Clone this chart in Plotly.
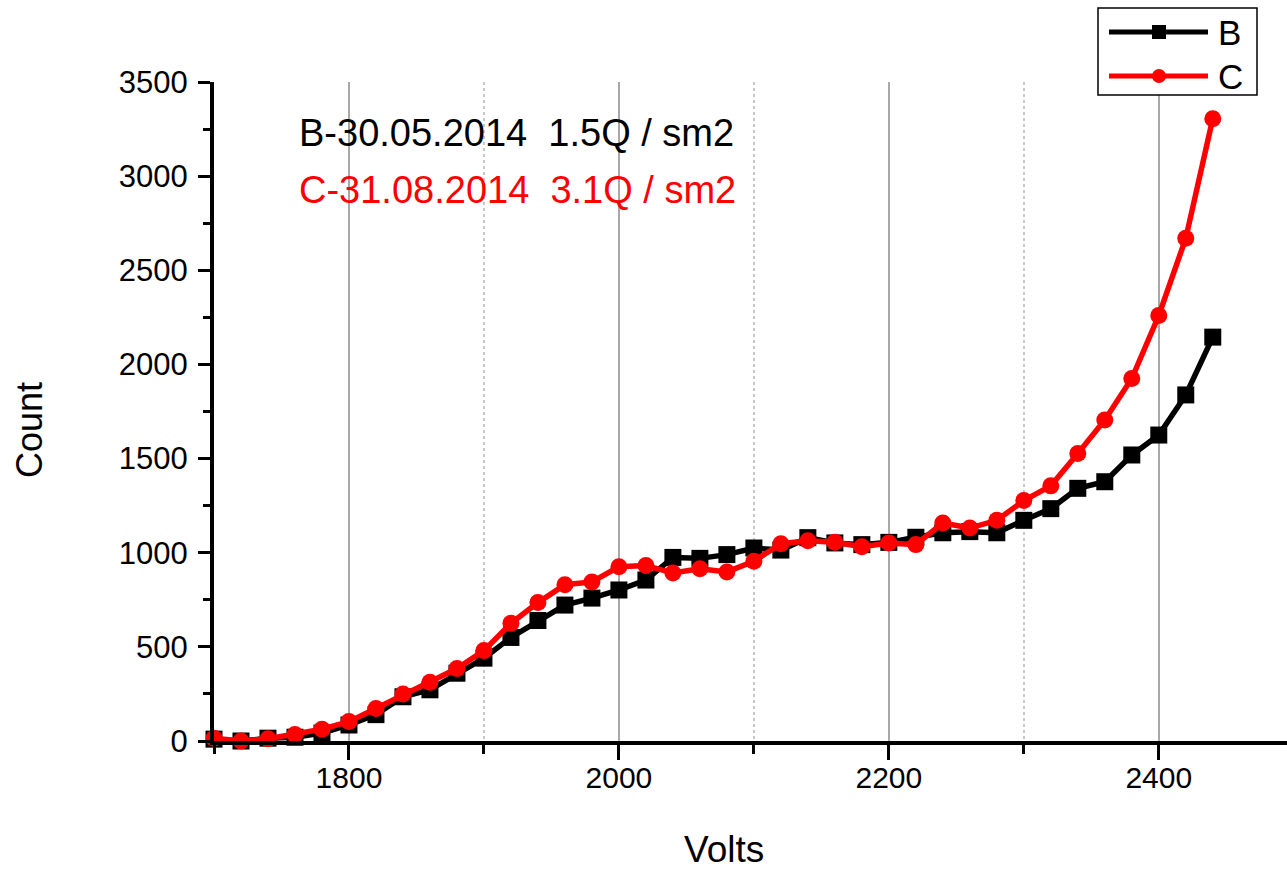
import plotly.graph_objects as go

# Plateau curves: counting rate vs. high voltage for two runs
volts = list(range(1700, 2441, 20))

count_b = [10, 0, 15, 20, 42, 85, 140, 235, 272, 360, 440, 550, 640, 722, 759, 802,
           855, 975, 970, 990, 1025, 1014, 1080, 1052, 1043, 1055, 1082, 1106, 1112,
           1106, 1172, 1234, 1342, 1377, 1519, 1625, 1838, 2145]

count_c = [14, 0, 12, 35, 63, 103, 173, 250, 312, 385, 480, 625, 735, 830, 845, 925,
           932, 892, 915, 898, 955, 1048, 1064, 1056, 1032, 1052, 1043, 1158, 1131,
           1172, 1277, 1355, 1527, 1705, 1925, 2260, 2670, 3305]

series_names = ["B", "C"]
series_colors = ["#000000", "#ff0000"]
series_symbols = ["square", "circle"]
note_lines = ["B-30.05.2014\u00a0\u00a01.5Q / sm2", "C-31.08.2014\u00a0\u00a03.1Q / sm2"]

W, H = 1287, 870
ML, MR, MT, MB = 214, 0, 82, 129
PW, PH = W - ML - MR, H - MT - MB
FONT = "Arial, Liberation Sans, sans-serif"


def px(x):
    return (x - ML) / PW


def py(y):
    return (H - MB - y) / PH


fig = go.Figure()
for name, ys, col, sym in zip(series_names, [count_b, count_c], series_colors, series_symbols):
    fig.add_trace(go.Scatter(
        x=volts, y=ys, name=name, mode="lines+markers",
        line=dict(color=col, width=5.5),
        marker=dict(symbol=sym, size=17, color=col),
        showlegend=False, cliponaxis=False,
    ))

fig.update_xaxes(
    range=[1700, 2495], tickvals=[1800, 2000, 2200, 2400],
    ticks="outside", ticklen=15, tickwidth=3, tickcolor="black",
    showline=True, linecolor="black", linewidth=4,
    showgrid=True, gridcolor="#a8a8a8", gridwidth=1.5,
    minor=dict(dtick=100, tick0=1700, ticks="outside", ticklen=9, tickwidth=3,
               tickcolor="black", showgrid=True, gridcolor="#c8c8c8",
               griddash="dot", gridwidth=1.5),
    tickfont=dict(family=FONT, size=30, color="black"),
    ticklabelstandoff=-8,
    zeroline=False,
)
fig.update_yaxes(
    range=[0, 3500], dtick=500, tick0=0,
    ticks="outside", ticklen=12, tickwidth=3, tickcolor="black",
    showline=True, linecolor="black", linewidth=4,
    showgrid=False, zeroline=False,
    minor=dict(dtick=250, ticks="outside", ticklen=7, tickwidth=3, tickcolor="black"),
    tickfont=dict(family=FONT, size=31, color="black"),
    ticklabelstandoff=4,
)

annotations = [
    dict(text="Volts", x=px(724), y=py(849), xref="paper", yref="paper",
         xanchor="center", yanchor="middle", showarrow=False,
         font=dict(family=FONT, size=37, color="black")),
    dict(text="Count", x=px(29), y=py(430), xref="paper", yref="paper",
         xanchor="center", yanchor="middle", textangle=-90, showarrow=False,
         font=dict(family=FONT, size=36, color="black")),
]
for txt, col, yy in zip(note_lines, series_colors, [133, 190]):
    annotations.append(dict(text=txt, x=px(297), y=py(yy), xref="paper", yref="paper",
                            xanchor="left", yanchor="middle", showarrow=False,
                            font=dict(family=FONT, size=38, color=col)))

# Legend drawn as a framed box with line samples and markers
shapes = [dict(type="rect", xref="paper", yref="paper",
               x0=px(1098), x1=px(1257), y0=py(95), y1=py(8),
               line=dict(color="black", width=1.5), fillcolor="white")]
for name, col, sym, ly in zip(series_names, series_colors, series_symbols, [32, 76]):
    shapes.append(dict(type="line", xref="paper", yref="paper",
                       x0=px(1109), x1=px(1208), y0=py(ly), y1=py(ly),
                       line=dict(color=col, width=5)))
    shapes.append(dict(type="rect" if sym == "square" else "circle",
                       xref="paper", yref="paper",
                       x0=px(1152), x1=px(1166), y0=py(ly + 7), y1=py(ly - 7),
                       line=dict(color=col, width=0), fillcolor=col))
    annotations.append(dict(text=name, x=px(1216), y=py(ly), xref="paper", yref="paper",
                            xanchor="left", yanchor="middle", showarrow=False,
                            font=dict(family=FONT, size=35, color="black")))

fig.update_layout(
    width=W, height=H,
    margin=dict(l=ML, r=MR, t=MT, b=MB),
    paper_bgcolor="white", plot_bgcolor="white",
    annotations=annotations, shapes=shapes,
    showlegend=False,
)

fig.write_html("out.html")
